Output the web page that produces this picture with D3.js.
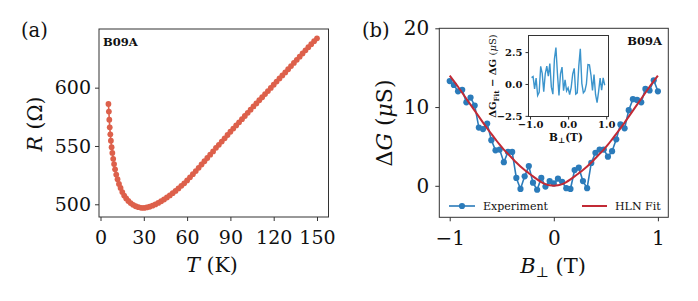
<!DOCTYPE html>
<html>
<head>
<meta charset="utf-8">
<script src="https://cdn.jsdelivr.net/npm/d3@7"></script>
<style>
body { margin: 0; background: #fff; }
svg text { font-family: "DejaVu Serif", serif; fill: #111; }
</style>
</head>
<body>
<svg id="fig" width="698" height="301"></svg>
<script>
// panel (a): resistance vs temperature
const tempK = [5.5, 5.8, 6.1, 6.4, 6.8, 7.2, 7.7, 8.2, 8.8, 9.4, 10.1, 10.9, 11.8, 12.8, 13.9, 15.1, 16.4, 17.8, 19.3, 20.9,
  22.6, 24.4, 26.3, 28.2, 30.1, 32, 34, 36, 38, 40, 42, 44, 46, 48, 50, 52, 54, 56, 58, 60,
  62, 64, 66, 68, 70, 72, 74, 76, 78, 80, 82, 84, 86, 88, 90, 92, 94, 96, 98, 100,
  102, 104, 106, 108, 110, 112, 114, 116, 118, 120, 122, 124, 126, 128, 130, 132, 134, 136, 138, 140,
  142, 144, 146, 148, 150];
const resOhm = [586, 579.5, 572.5, 566, 560, 554.5, 549, 544, 539, 534.5, 530, 525.5, 521.5, 517.5, 514, 510.5, 507.5, 505, 502.8, 501,
  499.5, 498.3, 497.5, 497, 496.9, 497.3, 497.9, 498.8, 499.9, 501.2, 502.6, 504.1, 505.8, 507.6, 509.5, 511.5, 513.6, 515.8, 518, 520.5,
  523.1, 525.8, 528.5, 531.3, 534.1, 536.9, 539.7, 542.5, 545.3, 548.4, 551, 553.8, 556.6, 559.4, 562.2, 564.9, 567.6, 570.3, 573, 575.7,
  578.4, 581.1, 583.9, 586.5, 589.2, 591.8, 594.5, 597.1, 599.8, 602.5, 605.2, 607.9, 610.5, 613.1, 615.8, 618.5, 621.2, 623.9, 626.6, 629.3,
  632, 634.7, 637.3, 639.9, 642.3];
const tTicks = [0, 30, 60, 90, 120, 150];
const rTicks = [500, 550, 600];

// panel (b): magnetoconductance, experiment and HLN fit
const fieldT = [-1, -0.96, -0.92, -0.88, -0.84, -0.8, -0.76, -0.72, -0.68, -0.64, -0.6, -0.56, -0.52, -0.48, -0.44, -0.4, -0.36,
  -0.32, -0.28, -0.24, -0.2, -0.16, -0.12, -0.08, -0.04, 0, 0.04, 0.08, 0.12, 0.16, 0.2, 0.24, 0.28, 0.32, 0.36,
  0.4, 0.44, 0.48, 0.52, 0.56, 0.6, 0.64, 0.68, 0.72, 0.76, 0.8, 0.84, 0.88, 0.92, 0.96, 1];
const dGexp = [13.3, 12.8, 12.0, 12.2, 10.6, 11.2, 10.2, 7.4, 7.2, 7.9, 5.8, 4.5, 4.6, 3.0, 4.3, 4.3, 1.0,
  -0.4, 1.2, 2.5, 0.4, -0.5, 1.0, -0.1, 0.6, 0.3, 0.9, 0.5, -0.3, -0.4, 2.0, 2.3, 0.6, -0.3, 2.9,
  4.2, 4.6, 4.6, 3.7, 4.4, 5.9, 7.8, 7.3, 9.6, 11.0, 10.9, 10.6, 12.3, 12.1, 13.4, 12.0];
const dGfit = [14.0, 13.3, 12.58, 11.82, 11.06, 10.3, 9.54, 8.78, 8.03, 7.3, 6.6, 5.9, 5.22, 4.6, 4.05, 3.5, 2.95,
  2.45, 2.0, 1.6, 1.2, 0.82, 0.48, 0.22, 0.06, 0, 0.06, 0.22, 0.48, 0.82, 1.2, 1.6, 2.0, 2.45, 2.95,
  3.5, 4.05, 4.6, 5.22, 5.9, 6.6, 7.3, 8.03, 8.78, 9.54, 10.3, 11.06, 11.82, 12.58, 13.3, 14.0];
const gTicks = [0, 10, 20];
const bTicks = [-1, 0, 1];
const insetBTicks = [-1, 0, 1];
const insetRTicks = [-2.5, 0, 2.5];

const redA = '#dd604b';
const blue = '#2b7bba';
const blueInset = '#3b94cc';
const redFit = '#c22a35';
const frameCol = '#333';

const svg = d3.select('#fig');

function frame(x0, x1, y0, y1) {
  svg.append('rect')
    .attr('x', x0).attr('y', y0)
    .attr('width', x1 - x0).attr('height', y1 - y0)
    .attr('fill', 'none').attr('stroke', frameCol).attr('stroke-width', 1);
}

function styleAxis(g, size) {
  g.select('.domain').remove();
  g.selectAll('.tick line').attr('stroke', frameCol);
  g.selectAll('.tick text').attr('font-size', size).attr('fill', '#111')
    .attr('font-family', '"DejaVu Serif", serif');
}

// ---------- panel (a) ----------
const ax = { x0: 99, x1: 328.5, y0: 29, y1: 217 };
const xA = d3.scaleLinear().domain([-1.04, 157.97]).range([ax.x0, ax.x1]);
const yA = d3.scaleLinear().domain([489.1, 650.3]).range([ax.y1, ax.y0]);

svg.append('g').attr('transform', `translate(0,${ax.y1})`)
  .call(d3.axisBottom(xA).tickValues(tTicks).tickSize(4).tickPadding(10).tickFormat(d3.format('d')))
  .call(g => styleAxis(g, 19));
svg.append('g').attr('transform', `translate(${ax.x0},0)`)
  .call(d3.axisLeft(yA).tickValues(rTicks).tickSize(4).tickPadding(4).tickFormat(d3.format('d')))
  .call(g => styleAxis(g, 19));

const lineA = d3.line().x((d, i) => xA(tempK[i])).y(d => yA(d));
svg.append('path').datum(resOhm).attr('d', lineA)
  .attr('fill', 'none').attr('stroke', redA).attr('stroke-width', 1.6);
svg.append('g').selectAll('circle').data(resOhm).join('circle')
  .attr('cx', (d, i) => xA(tempK[i])).attr('cy', d => yA(d))
  .attr('r', 2.9).attr('fill', redA);
frame(ax.x0, ax.x1, ax.y0, ax.y1);

svg.append('text').attr('x', 103).attr('y', 46).attr('font-size', 11.5).attr('font-weight', 'bold').text('B09A');
svg.append('text').attr('x', 21).attr('y', 37).attr('font-size', 19.5).text('(a)');

const tLab = svg.append('text').attr('x', 212).attr('y', 272).attr('text-anchor', 'middle').attr('font-size', 20.5);
tLab.append('tspan').attr('font-style', 'italic').text('T');
tLab.append('tspan').text(' (K)');

const rLab = svg.append('text').attr('transform', 'translate(42,124) rotate(-90)')
  .attr('text-anchor', 'middle').attr('font-size', 20.5);
rLab.append('tspan').attr('font-style', 'italic').text('R');
rLab.append('tspan').text(' (Ω)');

// ---------- panel (b) ----------
const bx = { x0: 439.3, x1: 668.3, y0: 28.3, y1: 217.3 };
const xB = d3.scaleLinear().domain([-1.1, 1.1]).range([bx.x0, bx.x1]);
const yB = d3.scaleLinear().domain([-4, 20]).range([bx.y1, bx.y0]);

svg.append('g').attr('transform', `translate(0,${bx.y1})`)
  .call(d3.axisBottom(xB).tickValues(bTicks).tickSize(4).tickPadding(10).tickFormat(d3.format('d')))
  .call(g => styleAxis(g, 20));
svg.append('g').attr('transform', `translate(${bx.x0},0)`)
  .call(d3.axisLeft(yB).tickValues(gTicks).tickSize(4).tickPadding(6).tickFormat(d3.format('d')))
  .call(g => styleAxis(g, 20));

const lineExp = d3.line().x((d, i) => xB(fieldT[i])).y(d => yB(d));
svg.append('path').datum(dGexp).attr('d', lineExp)
  .attr('fill', 'none').attr('stroke', blue).attr('stroke-width', 1.6);
svg.append('g').selectAll('circle').data(dGexp).join('circle')
  .attr('cx', (d, i) => xB(fieldT[i])).attr('cy', d => yB(d))
  .attr('r', 3.1).attr('fill', blue);
svg.append('path').datum(dGfit).attr('d', lineExp.curve(d3.curveMonotoneX))
  .attr('fill', 'none').attr('stroke', redFit).attr('stroke-width', 2);
frame(bx.x0, bx.x1, bx.y0, bx.y1);

svg.append('text').attr('x', 662).attr('y', 45).attr('text-anchor', 'end')
  .attr('font-size', 11.5).attr('font-weight', 'bold').text('B09A');
svg.append('text').attr('x', 362).attr('y', 37).attr('font-size', 19.5).text('(b)');

// legend
const legY = 206;
svg.append('line').attr('x1', 449).attr('x2', 475).attr('y1', legY).attr('y2', legY)
  .attr('stroke', blue).attr('stroke-width', 1.6);
svg.append('circle').attr('cx', 462).attr('cy', legY).attr('r', 3.1).attr('fill', blue);
svg.append('text').attr('x', 483).attr('y', legY + 4).attr('font-size', 11).text('Experiment');
svg.append('line').attr('x1', 582).attr('x2', 607).attr('y1', legY).attr('y2', legY)
  .attr('stroke', redFit).attr('stroke-width', 2);
svg.append('text').attr('x', 615).attr('y', legY + 4).attr('font-size', 11).text('HLN Fit');

const bLab = svg.append('text').attr('x', 553).attr('y', 273).attr('text-anchor', 'middle').attr('font-size', 21);
bLab.append('tspan').attr('font-style', 'italic').text('B');
bLab.append('tspan').attr('font-size', 14).attr('dy', 4).text('⊥');
bLab.append('tspan').attr('dy', -4).text(' (T)');

const gLab = svg.append('text').attr('transform', 'translate(392,123) rotate(-90)')
  .attr('text-anchor', 'middle').attr('font-size', 22);
gLab.append('tspan').text('Δ');
gLab.append('tspan').attr('font-style', 'italic').text('G');
gLab.append('tspan').text(' (');
gLab.append('tspan').attr('font-style', 'italic').text('μ');
gLab.append('tspan').text('S)');

// ---------- inset ----------
const ix = { x0: 528.5, x1: 608.5, y0: 35.5, y1: 116.5 };
const xI = d3.scaleLinear().domain([-1.04, 1.06]).range([ix.x0, ix.x1]);
const yI = d3.scaleLinear().domain([-2.55, 3.8]).range([ix.y1, ix.y0]);

svg.append('rect').attr('x', ix.x0).attr('y', ix.y0)
  .attr('width', ix.x1 - ix.x0).attr('height', ix.y1 - ix.y0).attr('fill', '#fff');

const insetAxisB = svg.append('g').attr('transform', `translate(0,${ix.y1})`)
  .call(d3.axisBottom(xI).tickValues(insetBTicks).tickSize(3).tickPadding(1).tickFormat(d3.format('.1f')))
  .call(g => styleAxis(g, 10));
const insetAxisL = svg.append('g').attr('transform', `translate(${ix.x0},0)`)
  .call(d3.axisLeft(yI).tickValues(insetRTicks).tickSize(3).tickPadding(3).tickFormat(d3.format('.1f')))
  .call(g => styleAxis(g, 10));
insetAxisB.selectAll('.tick text').attr('font-weight', 'bold');
insetAxisL.selectAll('.tick text').attr('font-weight', 'bold');

// residual = fit - experiment, leaving out the two end points
const resid = dGfit.map((f, i) => f - dGexp[i]);
const inner = d3.range(1, fieldT.length - 1);
const lineI = d3.line().x(i => xI(fieldT[i])).y(i => yI(resid[i]));
svg.append('path').datum(inner).attr('d', lineI)
  .attr('fill', 'none').attr('stroke', blueInset).attr('stroke-width', 1.4);
frame(ix.x0, ix.x1, ix.y0, ix.y1);

const ibLab = svg.append('text').attr('x', 566).attr('y', 141).attr('text-anchor', 'middle')
  .attr('font-size', 10.5).attr('font-weight', 'bold');
ibLab.append('tspan').text('B');
ibLab.append('tspan').attr('font-size', 7.5).attr('dy', 2).text('⊥');
ibLab.append('tspan').attr('dy', -2).text('(T)');

const irLab = svg.append('text').attr('transform', 'translate(496,76) rotate(-90)')
  .attr('text-anchor', 'middle').attr('font-size', 10);
irLab.append('tspan').attr('font-weight', 'bold').text('ΔG');
irLab.append('tspan').attr('font-weight', 'bold').attr('font-size', 7).attr('dy', 2.5).text('Fit');
irLab.append('tspan').attr('font-weight', 'bold').attr('dy', -2.5).text(' − ΔG ');
irLab.append('tspan').text('(');
irLab.append('tspan').attr('font-style', 'italic').text('μ');
irLab.append('tspan').text('S)');
</script>
</body>
</html>
